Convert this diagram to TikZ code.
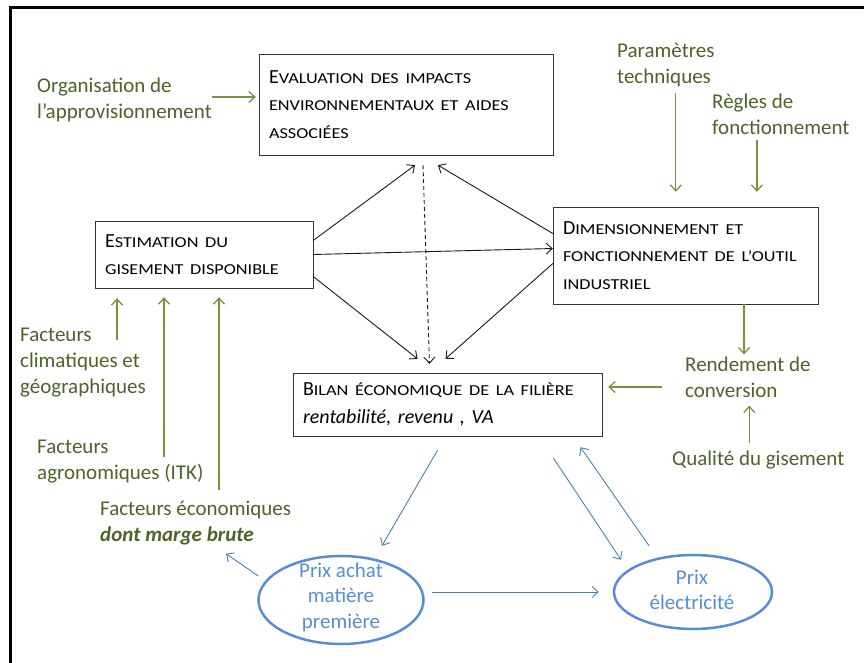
\documentclass[tikz,border=0pt]{standalone}
\usepackage{fontspec}
\setmainfont{Carlito}
\newfontfamily\scfont[FakeStretch=1.2]{Carlito}
\newcommand\smc[1]{{\fontsize{15.2}{27.5}\scfont #1}}
\usetikzlibrary{calc}
\usetikzlibrary{arrows.meta}
\usetikzlibrary{shapes.geometric}
\definecolor{vert}{HTML}{4F6228}
\definecolor{vertf}{HTML}{77933C}
\definecolor{bleu}{HTML}{558ED5}
\definecolor{bleuf}{HTML}{4A7EBB}

\begin{document}
\begin{tikzpicture}[x=1pt,y=-1pt,>={Straight Barb[length=6pt,width=11pt]},
        boite/.style={draw=black!80,rectangle,align=left,inner xsep=10pt,inner ysep=0pt,font=\fontsize{20}{27.5}\selectfont},
        facteur/.style={text=vert,font=\fontsize{21}{26}\selectfont,align=left,inner sep=0pt,anchor=west},
        prix/.style={draw=bleu,line width=2.5pt,ellipse,inner sep=0pt},
        prixtxt/.style={text=bleu,font=\fontsize{21}{25.5}\selectfont,align=center,inner sep=0pt},
        fleche/.style={->,black!90,line width=0.9pt},
        gfleche/.style={->,vertf,line width=1.3pt},
        bfleche/.style={->,bleuf,line width=0.9pt}
      ]
      \useasboundingbox (0,0) rectangle (864,663);
      \draw[line width=3pt] (10.5,663) -- (10.5,8) -- (864,8);

      \node[boite,text width=274pt,minimum height=101pt] (eval) at (406,104.5) {E\smc{VALUATION DES IMPACTS}\\\smc{ENVIRONNEMENTAUX ET AIDES}\\\smc{ASSOCIÉES}};
      \node[boite,text width=198pt,minimum height=67pt] (est) at (204,254.5) {E\smc{STIMATION DU}\\\smc{GISEMENT DISPONIBLE}};
      \node[boite,text width=245pt,minimum height=97pt] (dim) at (685.5,255.5) {D\smc{IMENSIONNEMENT ET}\\\smc{FONCTIONNEMENT DE L’OUTIL}\\\smc{INDUSTRIEL}};
      \node[boite,text width=289pt,minimum height=63pt] (bil) at (447.5,404.5) {B\smc{ILAN ÉCONOMIQUE DE LA FILIÈRE}\\\textit{rentabilité, revenu , VA}};

      \node[facteur] (orga) at (37,100) {Organisation de\\l’approvisionnement};
      \node[facteur] (param) at (617,65) {Paramètres\\techniques};
      \node[facteur] (regles) at (712,114.5) {Règles de\\fonctionnement};
      \node[facteur] (rend) at (685,377) {Rendement de\\conversion};
      \node[facteur] (qual) at (672,460) {Qualité du gisement};
      \node[facteur] (clim) at (20,363) {Facteurs\\climatiques et\\géographiques};
      \node[facteur] (agro) at (37,461.5) {Facteurs\\agronomiques (ITK)};
      \node[facteur] (eco) at (100,523.5) {Facteurs économiques\\\textbf{\textit{dont marge brute}}};

      \node[prix,minimum width=165pt,minimum height=88pt] (achat) at (341,600) {};
      \node[prixtxt] (achattxt) at (341,597) {Prix achat\\matière\\première};
      \node[prix,minimum width=158pt,minimum height=74pt] (elec) at (693,592) {};
      \node[prixtxt] (electxt) at (692,590) {Prix\\électricité};

      \draw[fleche] ($(est.east)+(0,-14)$) -- ($(eval.south)+(9,10)$);
      \draw[fleche] ($(dim.west)+(0,-22)$) -- ($(eval.south)+(32,10)$);
      \draw[fleche] (est.east) -- ($(dim.west)+(0,-7)$);
      \draw[fleche] ($(est.east)+(0,22)$) -- ($(bil.north)+(-30,-14)$);
      \draw[fleche] ($(dim.west)+(0,8)$) -- ($(bil.north)+(-2,-14)$);
      \draw[fleche,dash pattern=on 4pt off 3pt] ($(eval.south)+(17,10)$) -- ($(bil.north)+(-18,-9)$);

      \draw[gfleche] ($(orga.east)+(0,-3)$) -- ($(orga.east -| eval.west)+(-3,-3)$);
      \draw[gfleche] ($(param.south)+(10,6)$) -- ($(param.south |- dim.north)+(10,-15)$);
      \draw[gfleche] ($(regles.south)+(-24,5)$) -- ($(regles.south |- dim.north)+(-24,-15)$);
      \draw[gfleche] ($(dim.south)+(58.5,0)$) -- ($(dim.south |- rend.north)+(58.5,-2)$);
      \draw[gfleche] ($(rend.west)+(-23,10)$) -- ($(rend.west -| bil.east)+(6,10)$);
      \draw[gfleche] ($(qual.north)+(-9,-8)$) -- ($(qual.north |- rend.south)+(-9,8)$);
      \draw[gfleche] ($(clim.north west)+(97,12)$) -- ($(clim.north west |- est.south)+(97,10)$);
      \draw[gfleche] ($(agro.north west)+(127,17)$) -- ($(agro.north west |- est.south)+(127,9)$);
      \draw[gfleche] ($(eco.north west)+(119,-11)$) -- ($(eco.north west |- est.south)+(119,9)$);

      \draw[bfleche] ($(bil.south)+(-10,14)$) -- ($(achat.north)+(41,-9)$);
      \draw[bfleche] ($(bil.south)+(106,22)$) -- ($(elec.north)+(-72,6)$);
      \draw[bfleche] ($(elec.north)+(-44,-8)$) -- ($(bil.south)+(133,11)$);
      \draw[bfleche] ($(achat.east)+(7,-8)$) -- ($(elec.west)+(-14,0)$);
      \draw[bfleche] ($(achat.west)+(1,-24)$) -- ($(eco.south west)+(126,8)$);
    \end{tikzpicture}
\end{document}
